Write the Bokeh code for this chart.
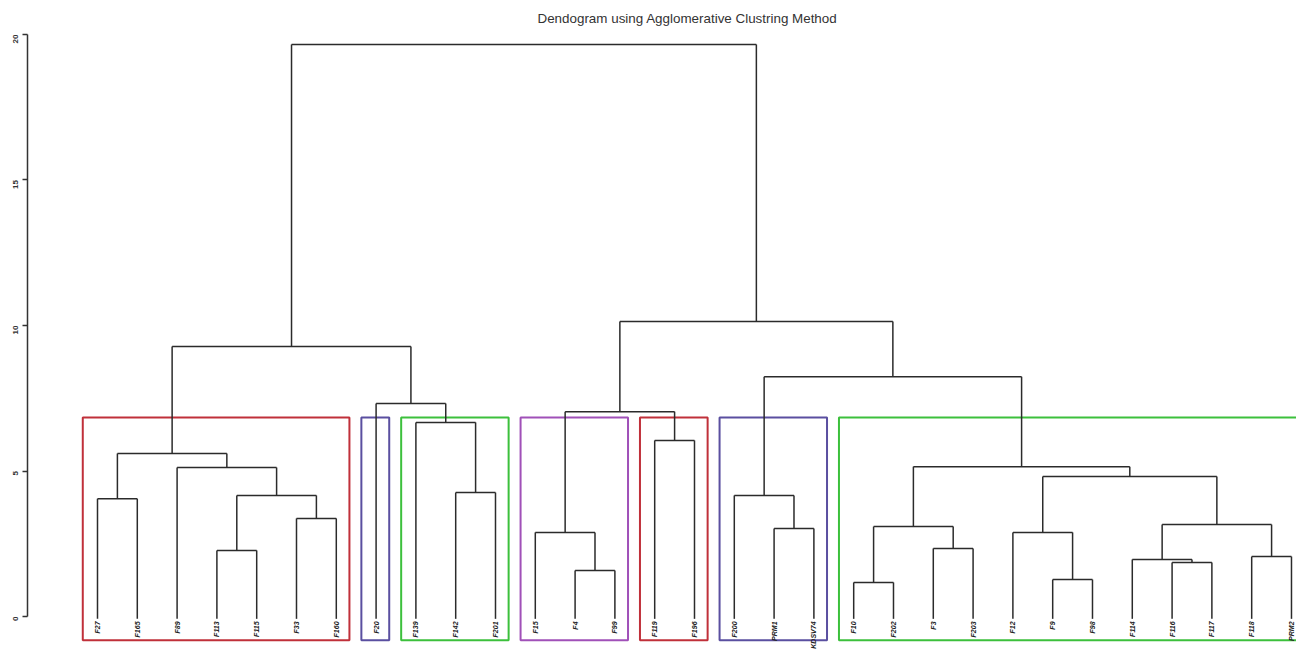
import math
from bokeh.plotting import figure
from bokeh.models import Range1d, FixedTicker, ColumnDataSource
from bokeh.core.properties import value
from bokeh.embed import file_html
from bokeh.resources import INLINE

# ---------------- data ----------------
leaf_labels = ["F27", "F165", "F89", "F113", "F115", "F33", "F160", "F20",
               "F139", "F142", "F201", "F15", "F4", "F99", "F119", "F196",
               "F200", "PRM1", "KDSV74", "F10", "F202", "F3", "F203", "F12",
               "F9", "F98", "F114", "F116", "F117", "F118", "PRM2"]

# R-style merge table: negative = leaf (1-based), positive = earlier merge (1-based)
merge_left = [-20, -25, -13, -28, -27, -30, -4, -22, -12, -24, -18, 1, 5, -6, -1,
              7, -17, -10, 10, -3, 12, 15, -15, -9, 9, -8, 17, 22, 25, 28]
merge_right = [-21, -26, -14, -29, 4, -31, -5, -23, 3, 2, -19, 8, 6, -7, -2,
               14, 11, -11, 13, 16, 19, 20, -16, 18, 23, 24, 21, 26, 27, 29]
merge_height = [1.17, 1.27, 1.58, 1.86, 1.96, 2.06, 2.27, 2.34, 2.89, 2.89, 3.02,
                3.09, 3.16, 3.37, 4.05, 4.16, 4.16, 4.26, 4.81, 5.12, 5.15, 5.60,
                6.05, 6.67, 7.04, 7.32, 8.24, 9.28, 10.14, 19.66]

# clusters drawn as boxes (first leaf, last leaf, colour)
cluster_first = [1, 8, 9, 12, 15, 17, 20]
cluster_last = [7, 8, 11, 14, 16, 19, 31]
cluster_color = ["#C0303A", "#5A4FA0", "#3CC03C", "#A050B8", "#C0303A", "#5A4FA0", "#3CC03C"]

y_ticks = [0, 5, 10, 15, 20]

# ---------------- geometry from data ----------------
LEAF_BOTTOM = -0.08
node_x = {}
node_h = {}


def child_xy(c):
    if c < 0:
        return float(-c), LEAF_BOTTOM
    return node_x[c], node_h[c]


x0s, y0s, x1s, y1s = [], [], [], []
for k, (a, b, h) in enumerate(zip(merge_left, merge_right, merge_height), start=1):
    xa, ha = child_xy(a)
    xb, hb = child_xy(b)
    x0s.append(xa); y0s.append(h); x1s.append(xb); y1s.append(h)
    x0s.append(xa); y0s.append(h); x1s.append(xa); y1s.append(ha)
    x0s.append(xb); y0s.append(h); x1s.append(xb); y1s.append(hb)
    node_x[k] = (xa + xb) / 2.0
    node_h[k] = h

# ---------------- figure ----------------
W, H = 1296, 650
p = figure(width=W, height=H, output_backend="svg", toolbar_location=None,
           title="Dendogram using Agglomerative Clustring Method",
           min_border_left=27, min_border_right=0, min_border_bottom=0,
           min_border_top=30)

p.x_range = Range1d(-0.7588, 31.126)
p.y_range = Range1d(-1.168, 20.137)

p.title.align = "left"
p.title.offset = 510
p.title.text_font = "Liberation Sans"
p.title.text_font_size = "13.4px"
p.title.text_font_style = "normal"
p.title.text_color = "#333333"
p.title.standoff = 10

p.xaxis.visible = False
p.xgrid.visible = False
p.ygrid.visible = False
p.outline_line_color = None
p.background_fill_color = "white"
p.border_fill_color = "white"

ax = p.yaxis[0]
ax.ticker = FixedTicker(ticks=y_ticks)
ax.bounds = (0, 20)
ax.major_label_orientation = math.pi / 2
ax.major_label_text_font = "Liberation Sans"
ax.major_label_text_font_size = "8px"
ax.major_label_text_font_style = "bold"
ax.major_label_text_color = "#333333"
ax.major_label_standoff = 7
ax.axis_line_color = "#333333"
ax.axis_line_width = 1.5
ax.major_tick_line_color = "#333333"
ax.major_tick_line_width = 1.5
ax.major_tick_out = 5
ax.major_tick_in = 0
ax.minor_tick_line_color = None

# cluster boxes
p.quad(left=[f - 0.37 for f in cluster_first], right=[l + 0.33 for l in cluster_last],
       bottom=-0.82, top=6.84, fill_color=None, line_color=cluster_color, line_width=2)

# tree
p.segment(x0=x0s, y0=y0s, x1=x1s, y1=y1s, line_color="#2b2b2b", line_width=1.5)

# leaf labels
src = ColumnDataSource(dict(x=list(range(1, len(leaf_labels) + 1)),
                            y=[-0.17] * len(leaf_labels), t=leaf_labels))
p.text(x="x", y="y", text="t", source=src, angle=math.pi / 2,
       text_align="right", text_baseline="middle",
       text_font=value("Liberation Sans"), text_font_size="7px",
       text_font_style="bold italic", text_color="#222222")

open("out.html", "w").write(file_html(p, INLINE))
